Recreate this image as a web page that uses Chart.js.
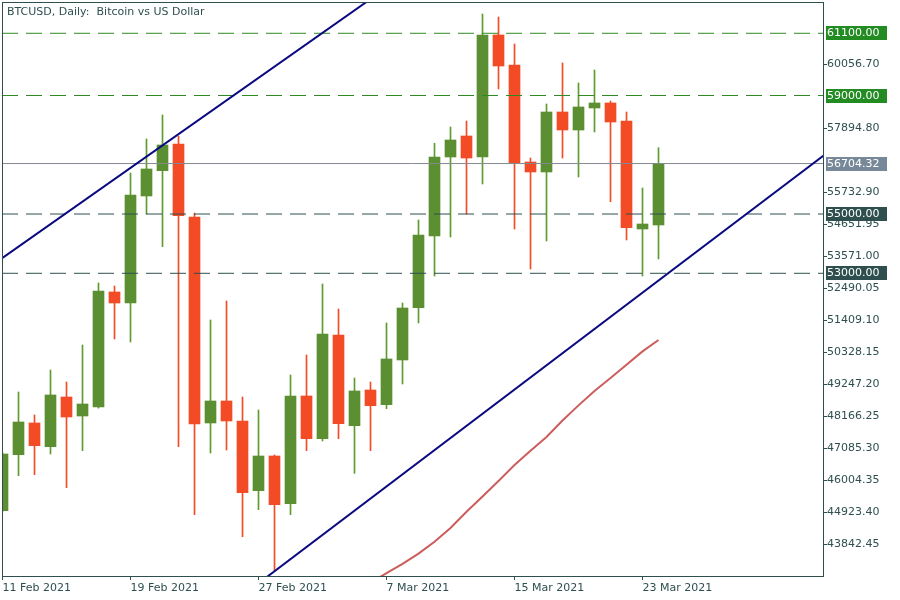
<!DOCTYPE html>
<html>
<head>
<meta charset="utf-8">
<title>BTCUSD Daily</title>
<script src="https://cdn.jsdelivr.net/npm/chart.js@4.4.1/dist/chart.umd.min.js"></script>
<style>
  html, body { margin: 0; padding: 0; background: #fff; }
  #wrap { width: 900px; height: 600px; }
</style>
</head>
<body>
<div id="wrap"><canvas id="chart"></canvas></div>
<script>
// daily candles, 11 Feb 2021 .. 24 Mar 2021 (index 0 = 11 Feb)
const opens  = [44988, 46878, 47948, 47148, 48825, 48184, 48488, 52369, 51998, 55609,
                56463, 57364, 54900, 47948, 48690, 48015, 45663, 46834, 45224, 48859,
                47418, 50918, 47857, 49061, 48565, 50074, 51839, 54259, 56925, 57634,
                56925, 61043, 60030, 56756, 56419, 58444, 57836, 58579, 58748, 58140,
                54495, 54630];
const highs  = [46950, 48994, 48218, 49736, 49331, 50580, 52673, 52571, 56385, 57533,
                58343, 57634, 55035, 51424, 52065, 48825, 48386, 46868, 49568, 50243,
                52639, 51795, 49466, 49331, 51323, 51998, 54799, 57388, 57938, 58140,
                61751, 61650, 60739, 56891, 58714, 60098, 59423, 59861, 58815, 58444,
                55879, 57239];
const lows   = [44950, 46169, 46203, 46901, 45764, 47013, 48450, 50783, 50681, 55001,
                53898, 47148, 44853, 46935, 47036, 44110, 45022, 42963, 44853, 47013,
                47340, 47418, 46250, 47013, 48430, 49264, 51323, 52909, 54225, 55001,
                56014, 59220, 54495, 53145, 54090, 56891, 56250, 57769, 55417, 54124,
                52909, 53483];
const closes = [46901, 47981, 47182, 48893, 48150, 48589, 52403, 51998, 55643, 56520,
                57330, 54944, 47914, 48690, 48015, 45595, 46834, 45190, 48859, 47418,
                50951, 47924, 49028, 48532, 50108, 51829, 54293, 56925, 57499, 56891,
                61043, 59996, 56723, 56419, 58444, 57836, 58613, 58748, 58106, 54539,
                54664, 56704.32];

// moving average, starts at candle 23
const maStart = 23;
const maValues = [42561, 42878, 43196, 43540, 43938, 44407, 44951, 45464, 45990, 46530,
                  47013, 47475, 48032, 48542, 49031, 49463, 49915, 50364, 50749];

const dateTicks = [0, 8, 16, 24, 32, 40];
const dateLabels = ['11 Feb 2021', '19 Feb 2021', '27 Feb 2021', '7 Mar 2021', '15 Mar 2021', '23 Mar 2021'];
const priceTicks = [43842.45, 44923.40, 46004.35, 47085.30, 48166.25, 49247.20, 50328.15,
                    51409.10, 52490.05, 53571.00, 54651.95, 55732.90, 57894.80, 60056.70];

const greenLevels = [61100, 59000];
const darkLevels = [55000, 53000];
const lastPrice = 56704.32;

const upperChannel = [[-1, 53138], [24, 62633]];
const lowerChannel = [[16, 42535], [52, 57255]];

const xMin = -0.03125, xMax = 51.28125;
const yMin = 42783.5, yMax = 62156;

const TEXT = '#2F4F4F';
const UP = '#5B8F32', UP_WICK = '#5E9A2E', DOWN = '#F24B26';
const DASH = [16, 8];

Chart.defaults.font.family = 'DejaVu Sans';
Chart.defaults.font.size = 11;
Chart.defaults.color = TEXT;

const isUp = i => closes[i] >= opens[i];

const wicks = {
  type: 'bar', order: 10, grouped: false, barThickness: 1,
  data: highs.map((h, i) => ({x: i, y: [lows[i], h]})),
  backgroundColor: highs.map((h, i) => isUp(i) ? UP_WICK : DOWN)
};
const bodies = {
  type: 'bar', order: 9, grouped: false, barThickness: 11,
  data: opens.map((o, i) => ({x: i, y: [o, closes[i]]})),
  backgroundColor: opens.map((o, i) => isUp(i) ? UP : DOWN)
};
const ma = {
  type: 'line', order: 3, borderColor: '#CD5C5C', borderWidth: 2, pointRadius: 0,
  data: maValues.map((v, k) => ({x: maStart + k, y: v}))
};

function level(v, color, dash) {
  return {
    type: 'line', order: 2, borderColor: color, borderWidth: 1, borderDash: dash,
    pointRadius: 0, data: [{x: xMin, y: v}, {x: xMax, y: v}]
  };
}
function channel(pts) {
  return {
    type: 'line', order: 1, borderColor: '#0A0A80', borderWidth: 2, pointRadius: 0,
    data: pts.map(p => ({x: p[0], y: p[1]}))
  };
}

const overlay = {
  id: 'overlay',
  afterDatasetsDraw(chart) {
    const {ctx, chartArea: a} = chart;
    ctx.save();
    ctx.strokeStyle = TEXT;
    ctx.lineWidth = 1;
    ctx.strokeRect(a.left + 0.5, a.top + 0.5, a.right - a.left, a.bottom - a.top);
    ctx.fillStyle = TEXT;
    ctx.font = '11px "DejaVu Sans"';
    ctx.textBaseline = 'middle';
    ctx.fillText('BTCUSD, Daily:  Bitcoin vs US Dollar', a.left + 5, a.top + 10);
    ctx.restore();
  },
  afterDraw(chart) {
    const {ctx, chartArea: a, scales: {y}} = chart;
    const boxes = greenLevels.map(v => [v, '#228B22'])
      .concat([[lastPrice, '#778899']])
      .concat(darkLevels.map(v => [v, '#2F4F4F']));
    ctx.save();
    ctx.font = '11px "DejaVu Sans"';
    ctx.textBaseline = 'middle';
    boxes.forEach(([v, bg]) => {
      const py = Math.round(y.getPixelForValue(v));
      ctx.fillStyle = bg;
      ctx.fillRect(a.right + 3, py - 7, 61, 14);
      ctx.fillStyle = '#fff';
      ctx.fillText(v.toFixed(2), a.right + 4, py + 0.5);
    });
    ctx.restore();
  }
};

new Chart(document.getElementById('chart'), {
  type: 'bar',
  data: {
    datasets: [
      wicks, bodies, ma,
      level(greenLevels[0], '#2E8B22', DASH),
      level(greenLevels[1], '#2E8B22', DASH),
      level(lastPrice, '#848A8F', []),
      level(darkLevels[0], '#2F4F4F', DASH),
      level(darkLevels[1], '#2F4F4F', DASH),
      channel(upperChannel),
      channel(lowerChannel)
    ]
  },
  options: {
    responsive: true,
    maintainAspectRatio: false,
    animation: false,
    layout: { padding: { left: 2, top: 2, right: 0, bottom: 0 }, autoPadding: false },
    plugins: { legend: { display: false }, tooltip: { enabled: false } },
    scales: {
      x: {
        type: 'linear', min: xMin, max: xMax, offset: false,
        grid: { offset: false, drawOnChartArea: false, tickLength: 4, tickColor: TEXT },
        border: { display: false },
        afterBuildTicks: s => { s.ticks = dateTicks.map(v => ({value: v})); },
        afterFit: s => { s.height = 24; s.paddingLeft = 0; s.paddingRight = 0; },
        ticks: {
          autoSkip: false, maxRotation: 0, align: 'start', padding: 2, color: TEXT,
          callback: (v, i) => dateLabels[i]
        }
      },
      y: {
        position: 'right', min: yMin, max: yMax,
        grid: { drawOnChartArea: false, tickLength: 4, tickColor: TEXT },
        border: { display: false },
        afterBuildTicks: s => { s.ticks = priceTicks.map(v => ({value: v})); },
        afterFit: s => { s.width = 77; s.paddingTop = 0; s.paddingBottom = 0; },
        ticks: { padding: 0, color: TEXT, callback: v => v.toFixed(2) }
      }
    }
  },
  plugins: [overlay]
});
</script>
</body>
</html>
